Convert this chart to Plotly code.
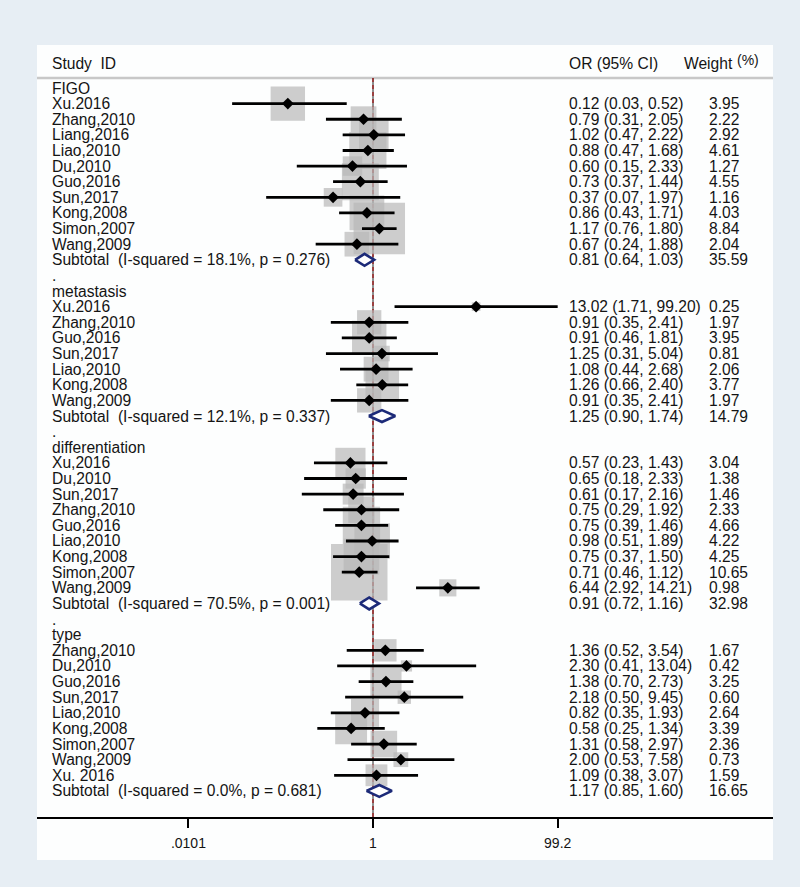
import math

import plotly.graph_objects as go

# ---- data ----
GROUPS = ["FIGO", "metastasis", "differentiation", "type"]

FIGO_STUDY = ["Xu.2016", "Zhang,2010", "Liang,2016", "Liao,2010", "Du,2010",
              "Guo,2016", "Sun,2017", "Kong,2008", "Simon,2007", "Wang,2009"]
FIGO_OR = [0.12, 0.79, 1.02, 0.88, 0.60, 0.73, 0.37, 0.86, 1.17, 0.67]
FIGO_LO = [0.03, 0.31, 0.47, 0.47, 0.15, 0.37, 0.07, 0.43, 0.76, 0.24]
FIGO_HI = [0.52, 2.05, 2.22, 1.68, 2.33, 1.44, 1.97, 1.71, 1.80, 1.88]
FIGO_W = [3.95, 2.22, 2.92, 4.61, 1.27, 4.55, 1.16, 4.03, 8.84, 2.04]

META_STUDY = ["Xu.2016", "Zhang,2010", "Guo,2016", "Sun,2017", "Liao,2010",
              "Kong,2008", "Wang,2009"]
META_OR = [13.02, 0.91, 0.91, 1.25, 1.08, 1.26, 0.91]
META_LO = [1.71, 0.35, 0.46, 0.31, 0.44, 0.66, 0.35]
META_HI = [99.20, 2.41, 1.81, 5.04, 2.68, 2.40, 2.41]
META_W = [0.25, 1.97, 3.95, 0.81, 2.06, 3.77, 1.97]

DIFF_STUDY = ["Xu,2016", "Du,2010", "Sun,2017", "Zhang,2010", "Guo,2016",
              "Liao,2010", "Kong,2008", "Simon,2007", "Wang,2009"]
DIFF_OR = [0.57, 0.65, 0.61, 0.75, 0.75, 0.98, 0.75, 0.71, 6.44]
DIFF_LO = [0.23, 0.18, 0.17, 0.29, 0.39, 0.51, 0.37, 0.46, 2.92]
DIFF_HI = [1.43, 2.33, 2.16, 1.92, 1.46, 1.89, 1.50, 1.12, 14.21]
DIFF_W = [3.04, 1.38, 1.46, 2.33, 4.66, 4.22, 4.25, 10.65, 0.98]

TYPE_STUDY = ["Zhang,2010", "Du,2010", "Guo,2016", "Sun,2017", "Liao,2010",
              "Kong,2008", "Simon,2007", "Wang,2009", "Xu. 2016"]
TYPE_OR = [1.36, 2.30, 1.38, 2.18, 0.82, 0.58, 1.31, 2.00, 1.09]
TYPE_LO = [0.52, 0.41, 0.70, 0.50, 0.35, 0.25, 0.58, 0.53, 0.38]
TYPE_HI = [3.54, 13.04, 2.73, 9.45, 1.93, 1.34, 2.97, 7.58, 3.07]
TYPE_W = [1.67, 0.42, 3.25, 0.60, 2.64, 3.39, 2.36, 0.73, 1.59]

SUB_OR = [0.81, 1.25, 0.91, 1.17]
SUB_LO = [0.64, 0.90, 0.72, 0.85]
SUB_HI = [1.03, 1.74, 1.16, 1.60]
SUB_W = [35.59, 14.79, 32.98, 16.65]
I_SQUARED = [18.1, 12.1, 70.5, 0.0]
P_HET = [0.276, 0.337, 0.001, 0.681]

TICK_VALS = [0.0101, 1, 99.2]
TICK_TEXT = [".0101", "1", "99.2"]

# ---- style ----
_FONT = "'Liberation Sans', Arial, sans-serif"
_TEXT = "#141414"
_OUTER = "#e7eef4"
_PANEL = "#fdfefe"
_BOX = "#b8b8b8"
_NAVY = "#1c2a78"
_SIZE = 15.6

W, H = 800, 887
PLOT_L, PLOT_R, PLOT_T, PLOT_B = 37, 773, 45, 817
ROW0_PX, ROW_PX = 88, 15.62
HEAD_PX, HEAD_LINE_PX = 63, 78
ONE_PX, DECADE_PX = 373, 92.5


def px_to_paper_x(px):
    return (px - PLOT_L) / (PLOT_R - PLOT_L)


def px_to_row(py):
    return (py - ROW0_PX) / ROW_PX


studies = [
    (FIGO_STUDY, FIGO_OR, FIGO_LO, FIGO_HI, FIGO_W),
    (META_STUDY, META_OR, META_LO, META_HI, META_W),
    (DIFF_STUDY, DIFF_OR, DIFF_LO, DIFF_HI, DIFF_W),
    (TYPE_STUDY, TYPE_OR, TYPE_LO, TYPE_HI, TYPE_W),
]

labels, est_text, wt_text = [], [], []
pts = dict(x=[], y=[], w=[])
ci_x, ci_y = [], []
dia_x, dia_y = [], []

row = 0
for g, (names, ors, los, his, ws) in enumerate(studies):
    if g > 0:
        labels.append((row, "."))
        row += 1
    labels.append((row, GROUPS[g]))
    row += 1
    for name, o, lo, hi, w in zip(names, ors, los, his, ws):
        labels.append((row, name))
        est_text.append((row, f"{o:.2f} ({lo:.2f}, {hi:.2f})"))
        wt_text.append((row, f"{w:.2f}"))
        pts["x"].append(o)
        pts["y"].append(row)
        pts["w"].append(w)
        ci_x += [lo, hi, None]
        ci_y += [row, row, None]
        row += 1
    labels.append((row, f"Subtotal\u00a0 (I-squared = {I_SQUARED[g]:.1f}%, p = {P_HET[g]:.3f})"))
    est_text.append((row, f"{SUB_OR[g]:.2f} ({SUB_LO[g]:.2f}, {SUB_HI[g]:.2f})"))
    wt_text.append((row, f"{SUB_W[g]:.2f}"))
    h = 0.38
    dia_x += [SUB_LO[g], SUB_OR[g], SUB_HI[g], SUB_OR[g], SUB_LO[g], None]
    dia_y += [row, row - h, row, row + h, row, None]
    row += 1

y_top = px_to_row(PLOT_T)
y_bot = px_to_row(PLOT_B)
y_head = px_to_row(HEAD_PX)
y_head_line = px_to_row(HEAD_LINE_PX)
x_left = (PLOT_L - ONE_PX) / DECADE_PX
x_right = (PLOT_R - ONE_PX) / DECADE_PX

fig = go.Figure()

# weight boxes
fig.add_trace(go.Scatter(
    x=pts["x"], y=pts["y"], mode="markers", hoverinfo="skip",
    marker=dict(symbol="square", color=_BOX,
                size=[17.3 * math.sqrt(w) for w in pts["w"]], line=dict(width=0)),
))
# confidence intervals
fig.add_trace(go.Scatter(
    x=ci_x, y=ci_y, mode="lines", hoverinfo="skip",
    line=dict(color="black", width=2.8),
))
# point estimates
fig.add_trace(go.Scatter(
    x=pts["x"], y=pts["y"], mode="markers", hoverinfo="skip",
    marker=dict(symbol="diamond", color="black", size=9),
))
# subtotal diamonds
fig.add_trace(go.Scatter(
    x=dia_x, y=dia_y, mode="lines", fill="toself", fillcolor="white",
    hoverinfo="skip", line=dict(color=_NAVY, width=2.6),
))

shapes = [
    dict(type="rect", xref="paper", yref="paper", x0=0, x1=1,
         y0=(PLOT_B - 860) / (PLOT_B - PLOT_T), y1=1,
         fillcolor=_PANEL, line=dict(width=0), layer="below"),
    dict(type="line", xref="paper", yref="y", x0=0, x1=1, y0=y_head_line, y1=y_head_line,
         line=dict(color="#c8c8c8", width=2.5), layer="below"),
    dict(type="line", xref="x", yref="y", x0=1, x1=1, y0=y_head_line, y1=y_bot,
         line=dict(color="#222222", width=1), layer="below"),
    dict(type="line", xref="x", yref="y", x0=1, x1=1, y0=y_head_line, y1=y_bot,
         line=dict(color="#a01818", width=1.3, dash="4px,3px"), layer="below"),
]

annotations = []
txt = dict(xref="paper", yref="y", xanchor="left", yanchor="middle",
           showarrow=False, font=dict(family=_FONT, size=_SIZE, color=_TEXT))
annotations.append(dict(txt, x=px_to_paper_x(50), y=y_head, text="Study\u00a0 ID"))
annotations.append(dict(txt, x=px_to_paper_x(567), y=y_head, text="OR (95% CI)"))
annotations.append(dict(txt, x=px_to_paper_x(682), y=y_head, text="Weight"))
annotations.append(dict(txt, x=px_to_paper_x(735), y=y_head - 0.2, text="(%)",
                        font=dict(family=_FONT, size=14, color=_TEXT)))
for r, t in labels:
    annotations.append(dict(txt, x=px_to_paper_x(50), y=r, text=t))
for r, t in est_text:
    annotations.append(dict(txt, x=px_to_paper_x(567), y=r, text=t))
for r, t in wt_text:
    annotations.append(dict(txt, x=px_to_paper_x(707), y=r, text=t))

fig.update_layout(
    width=W, height=H,
    paper_bgcolor=_OUTER, plot_bgcolor=_PANEL,
    margin=dict(l=PLOT_L, r=W - PLOT_R, t=PLOT_T, b=H - PLOT_B, pad=0),
    showlegend=False,
    font=dict(family=_FONT, size=_SIZE, color=_TEXT),
    shapes=shapes,
    annotations=annotations,
    xaxis=dict(type="log", range=[x_left, x_right], tickvals=TICK_VALS, ticktext=TICK_TEXT,
               ticks="outside", ticklen=9, tickwidth=1.5, tickcolor="black",
               ticklabelstandoff=3,
               showline=True, linecolor="black", linewidth=1.5,
               showgrid=False, zeroline=False, tickfont=dict(size=14, color=_TEXT)),
    yaxis=dict(range=[y_bot, y_top], visible=False, showgrid=False, zeroline=False),
)

fig.write_html("out.html", config={"displayModeBar": False},
               post_script="document.body.style.margin='0';")
